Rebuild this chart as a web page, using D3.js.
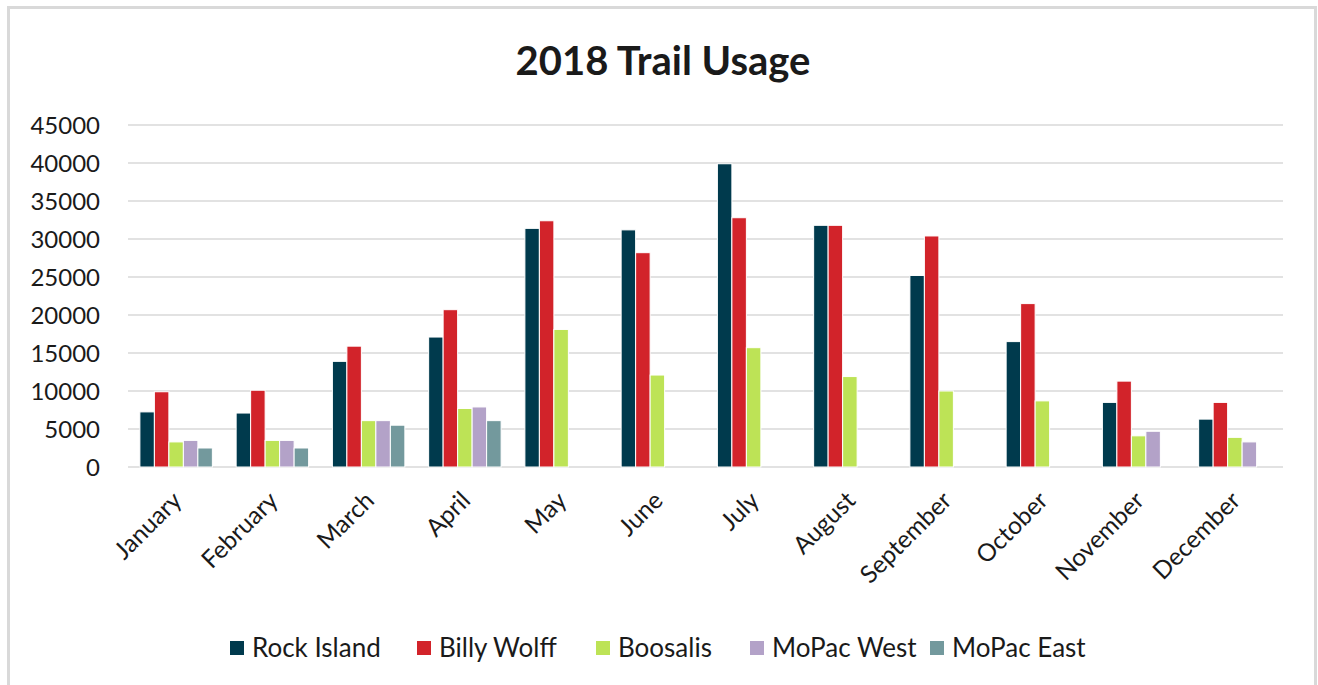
<!DOCTYPE html>
<html>
<head>
<meta charset="utf-8">
<script src="https://cdn.jsdelivr.net/npm/d3@7/dist/d3.min.js"></script>
<style>
  html, body { margin: 0; padding: 0; background: #fff; }
  svg { display: block; }
  text { font-family: Lato, "Noto Sans", sans-serif; fill: #1a1a1a; }
</style>
</head>
<body>
<svg id="chart" width="1318" height="685"></svg>
<script>
const months = ["January","February","March","April","May","June","July","August","September","October","November","December"];
const seriesNames = ["Rock Island","Billy Wolff","Boosalis","MoPac West","MoPac East"];
const seriesColors = ["#003a4d","#d2232a","#bde356","#b3a2c8","#73999d"];
const rockIsland = [7250, 7100, 13900, 17100, 31400, 31200, 39900, 31800, 25200, 16500, 8500, 6300];
const billyWolff = [9900, 10100, 15900, 20700, 32400, 28200, 32800, 31800, 30400, 21500, 11300, 8500];
const boosalis   = [3300, 3500, 6100, 7700, 18100, 12100, 15700, 11900, 10000, 8700, 4100, 3900];
const mopacWest  = [3500, 3500, 6100, 7900, null, null, null, null, null, null, 4700, 3300];
const mopacEast  = [2500, 2500, 5500, 6100, null, null, null, null, null, null, null, null];
const yTicks = [0, 5000, 10000, 15000, 20000, 25000, 30000, 35000, 40000, 45000];
const title = "2018 Trail Usage";

const seriesValues = [rockIsland, billyWolff, boosalis, mopacWest, mopacEast];

const svg = d3.select("#chart");

// outer chart border
svg.append("rect")
  .attr("x", 8.5).attr("y", 7.5)
  .attr("width", 1307).attr("height", 690)
  .attr("fill", "#fff").attr("stroke", "#d9d9d9").attr("stroke-width", 3);

const plot = { left: 128, right: 1283, top: 125, bottom: 467 };

const x = d3.scaleBand()
  .domain(months)
  .range([plot.left, plot.right])
  .paddingInner(0.247)
  .paddingOuter(0.1235);

const xs = d3.scaleBand()
  .domain(seriesNames)
  .range([0, x.bandwidth()])
  .padding(0);

const y = d3.scaleLinear()
  .domain([0, 45000])
  .range([plot.bottom, plot.top]);

// gridlines
svg.append("g")
  .selectAll("line")
  .data(yTicks)
  .join("line")
  .attr("x1", plot.left).attr("x2", plot.right)
  .attr("y1", d => y(d)).attr("y2", d => y(d))
  .attr("stroke", "#d9d9d9").attr("stroke-width", 1.5);

// y axis labels
const yAxis = d3.axisLeft(y).tickValues(yTicks).tickSize(0).tickPadding(0).tickFormat(d3.format("d"));
const yg = svg.append("g").attr("transform", `translate(${plot.left - 28},0)`).call(yAxis);
yg.select(".domain").remove();
yg.selectAll("text").attr("font-size", 24).attr("font-family", "Lato, sans-serif").attr("fill", "#1a1a1a").attr("dy", "0.36em");

// bars
const groups = svg.append("g")
  .selectAll("g")
  .data(months.map((m, i) => ({ m, vals: seriesNames.map((s, j) => ({ s, j, v: seriesValues[j][i] })) })))
  .join("g")
  .attr("transform", d => `translate(${x(d.m)},0)`);

groups.selectAll("rect")
  .data(d => d.vals.filter(v => v.v != null))
  .join("rect")
  .attr("x", d => xs(d.s))
  .attr("width", xs.bandwidth())
  .attr("y", d => y(d.v))
  .attr("height", d => y(0) - y(d.v))
  .attr("fill", d => seriesColors[d.j])
  .attr("stroke", "#fff").attr("stroke-width", 1);

// x axis labels
const xAxis = d3.axisBottom(x).tickSize(0).tickPadding(0);
const xg = svg.append("g").attr("transform", `translate(0,${plot.bottom})`).call(xAxis);
xg.select(".domain").remove();
xg.selectAll("text")
  .attr("font-size", 24.5).attr("font-family", "Lato, sans-serif").attr("fill", "#1a1a1a")
  .attr("text-anchor", "end")
  .attr("y", 0).attr("dy", 0)
  .attr("transform", "translate(7,35) rotate(-45)");

// title
svg.append("text")
  .attr("x", 663).attr("y", 75)
  .attr("text-anchor", "middle")
  .attr("font-size", 40).attr("font-weight", "bold")
  .attr("fill", "#000")
  .text(title);

// legend
const legendX = [230, 417, 596, 750, 930];
const lg = svg.append("g")
  .selectAll("g")
  .data(seriesNames)
  .join("g")
  .attr("transform", (d, i) => `translate(${legendX[i]},648)`);
lg.append("rect")
  .attr("x", 0).attr("y", -7).attr("width", 14).attr("height", 14)
  .attr("fill", (d, i) => seriesColors[i]);
lg.append("text")
  .attr("x", 22).attr("y", 0).attr("dy", "0.36em")
  .attr("font-size", 26)
  .text(d => d);
</script>
</body>
</html>
